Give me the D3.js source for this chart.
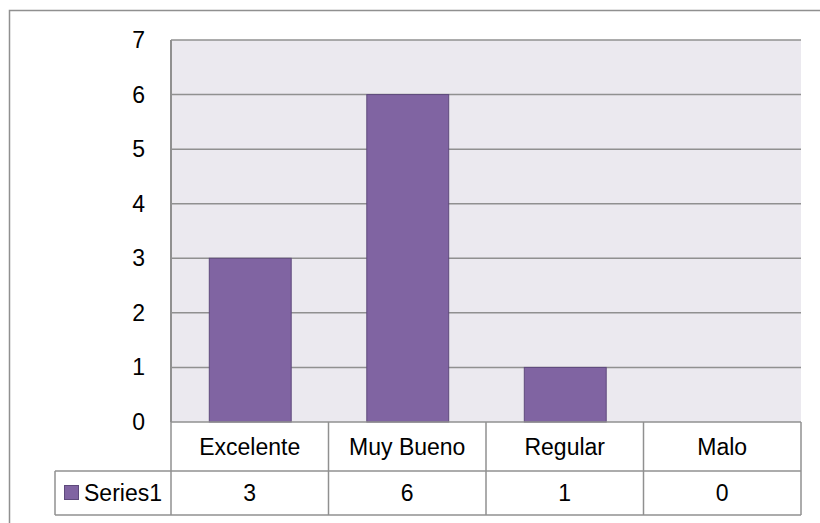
<!DOCTYPE html>
<html>
<head>
<meta charset="utf-8">
<script src="https://cdn.jsdelivr.net/npm/d3@7"></script>
<style>
  body { margin: 0; background: #fff; }
  text { font-family: "Liberation Sans", Arial, sans-serif; fill: #000; }
</style>
</head>
<body>
<div id="chart"></div>
<script>
// data
var categories = ["Excelente", "Muy Bueno", "Regular", "Malo"];
var series1 = [3, 6, 1, 0];
var seriesName = "Series1";
var yTicks = [0, 1, 2, 3, 4, 5, 6, 7];

var W = 820, H = 523;
var lineColor = "#909090";
var barFill = "#8064a2", barStroke = "#5e4a7c";
var plotBg = "#ebe9ef";
var fontSize = 23;

// plot frame (note: "top" is reserved on window, so use plot* names)
var plotLeft = 171, plotRight = 801, plotTop = 40, plotBottom = 422;
var catRow = 471, valRow = 515, tableLeft = 55;

var svg = d3.select("#chart").append("svg")
    .attr("width", W)
    .attr("height", H);

// outer chart border (runs off the right/bottom edge in the original)
svg.append("rect")
    .attr("x", 9.5).attr("y", 10.5)
    .attr("width", W + 10).attr("height", H + 10)
    .attr("fill", "none")
    .attr("stroke", lineColor)
    .attr("stroke-width", 1.5);

var x = d3.scaleBand()
    .domain(categories)
    .range([plotLeft, plotRight])
    .paddingInner(0.48)
    .paddingOuter(0.24);

var y = d3.scaleLinear()
    .domain([0, 7])
    .range([plotBottom, plotTop]);

// plot background
svg.append("rect")
    .attr("x", plotLeft).attr("y", plotTop)
    .attr("width", plotRight - plotLeft).attr("height", plotBottom - plotTop)
    .attr("fill", plotBg);

// gridlines
svg.append("g")
    .selectAll("line")
    .data(yTicks.filter(function(d) { return d > 0; }))
    .join("line")
    .attr("x1", plotLeft).attr("x2", plotRight)
    .attr("y1", function(d) { return y(d); })
    .attr("y2", function(d) { return y(d); })
    .attr("stroke", lineColor)
    .attr("stroke-width", 1.5);

// y tick labels
svg.append("g")
    .selectAll("text")
    .data(yTicks)
    .join("text")
    .attr("x", 145)
    .attr("y", function(d) { return y(d); })
    .attr("dy", "0.35em")
    .attr("text-anchor", "end")
    .style("font-size", fontSize + "px")
    .text(function(d) { return d; });

// bars
svg.append("g")
    .selectAll("rect")
    .data(series1)
    .join("rect")
    .attr("x", function(d, i) { return x(categories[i]) + 0.5; })
    .attr("y", function(d) { return y(d); })
    .attr("width", x.bandwidth())
    .attr("height", function(d) { return y(0) - y(d); })
    .attr("fill", barFill)
    .attr("stroke", function(d) { return d > 0 ? barStroke : "none"; })
    .attr("stroke-width", 1);

// vertical axis line
svg.append("line")
    .attr("x1", plotLeft).attr("x2", plotLeft)
    .attr("y1", plotTop).attr("y2", plotBottom)
    .attr("stroke", lineColor)
    .attr("stroke-width", 2);

// data table
var colW = x.step();
var colStart = function(i) { return plotLeft + i * colW; };
var table = svg.append("g")
    .attr("stroke", lineColor)
    .attr("stroke-width", 1.5)
    .attr("fill", "none");

table.append("line").attr("x1", plotLeft).attr("x2", plotRight).attr("y1", plotBottom).attr("y2", plotBottom);
table.append("line").attr("x1", tableLeft).attr("x2", plotRight).attr("y1", catRow).attr("y2", catRow);
table.append("line").attr("x1", tableLeft).attr("x2", plotRight).attr("y1", valRow).attr("y2", valRow);
table.append("line").attr("x1", tableLeft).attr("x2", tableLeft).attr("y1", catRow).attr("y2", valRow);
table.selectAll("line.col")
    .data(d3.range(categories.length + 1))
    .join("line")
    .attr("class", "col")
    .attr("x1", function(i) { return colStart(i); })
    .attr("x2", function(i) { return colStart(i); })
    .attr("y1", plotBottom)
    .attr("y2", valRow);

// category labels
svg.append("g")
    .selectAll("text")
    .data(categories)
    .join("text")
    .attr("x", function(d, i) { return colStart(i) + colW / 2; })
    .attr("y", (plotBottom + catRow) / 2)
    .attr("dy", "0.35em")
    .attr("text-anchor", "middle")
    .style("font-size", fontSize + "px")
    .text(function(d) { return d; });

// values row
svg.append("g")
    .selectAll("text")
    .data(series1)
    .join("text")
    .attr("x", function(d, i) { return colStart(i) + colW / 2; })
    .attr("y", (catRow + valRow) / 2)
    .attr("dy", "0.35em")
    .attr("text-anchor", "middle")
    .style("font-size", fontSize + "px")
    .text(function(d) { return d; });

// legend key in table
svg.append("rect")
    .attr("x", 64.5).attr("y", 485.5)
    .attr("width", 14).attr("height", 14)
    .attr("fill", barFill)
    .attr("stroke", barStroke)
    .attr("stroke-width", 1);
svg.append("text")
    .attr("x", 84)
    .attr("y", (catRow + valRow) / 2)
    .attr("dy", "0.35em")
    .style("font-size", fontSize + "px")
    .text(seriesName);
</script>
</body>
</html>
